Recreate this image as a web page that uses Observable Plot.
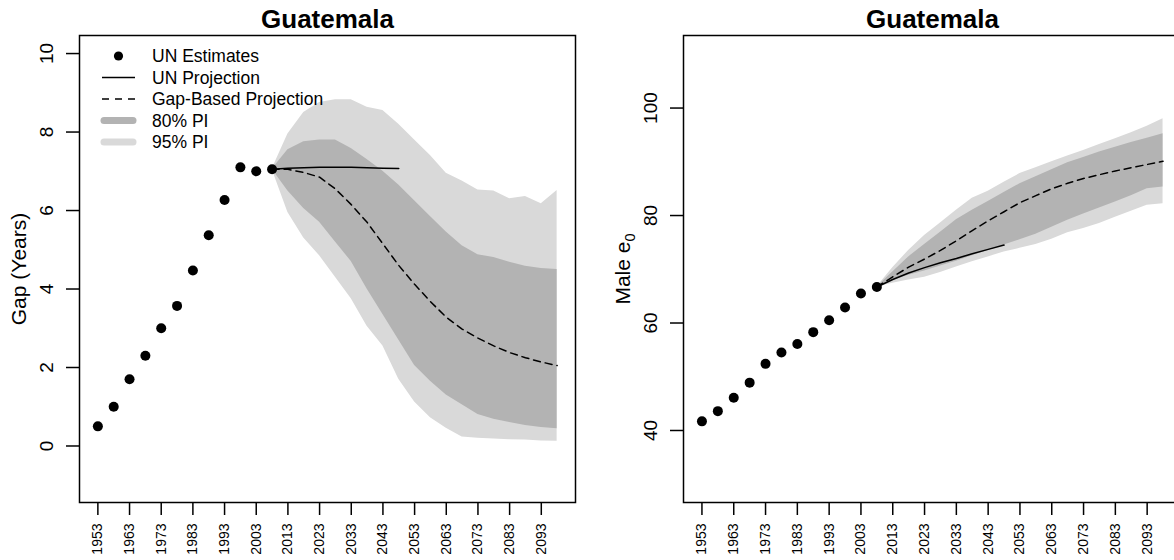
<!DOCTYPE html>
<html><head><meta charset="utf-8">
<script src="https://cdn.jsdelivr.net/npm/d3@7"></script>
<script src="https://cdn.jsdelivr.net/npm/@observablehq/plot@0.6"></script>
<style>
html,body{margin:0;padding:0;overflow:hidden;background:#fff;}
#wrap{position:relative;width:1174px;height:560px;overflow:hidden;}
#wrap svg{position:absolute;top:0;}
</style></head><body><div id="wrap"></div>
<script>
const FONT = '"Liberation Sans", Arial, Helvetica, sans-serif';
const title = "Guatemala";
const estYears = [1953,1958,1963,1968,1973,1978,1983,1988,1993,1998,2003,2008];
const projYears = [2008,2013,2018,2023,2028,2033,2038,2043,2048,2053,2058,2063,2068,2073,2078,2083,2088,2093,2098];
const unProjYears = [2008,2013,2018,2023,2028,2033,2038,2043,2048];
const xTicks = [1953,1963,1973,1983,1993,2003,2013,2023,2033,2043,2053,2063,2073,2083,2093];

// Left panel: gap
const gapTicks = [0,2,4,6,8,10];
const gapEst = [0.50,1.00,1.70,2.30,3.00,3.57,4.47,5.37,6.27,7.10,7.00,7.05];
const gapUNProj = [7.05,7.08,7.09,7.10,7.10,7.10,7.09,7.08,7.07];
const gapMedian = [7.05,7.05,6.97,6.85,6.55,6.15,5.70,5.15,4.60,4.12,3.68,3.28,2.98,2.75,2.55,2.38,2.25,2.14,2.05];
const gapLo80 = [7.05,6.50,6.05,5.70,5.20,4.70,4.00,3.35,2.70,2.05,1.65,1.30,1.05,0.80,0.68,0.60,0.52,0.47,0.44];
const gapHi80 = [7.05,7.55,7.75,7.80,7.80,7.58,7.30,7.00,6.65,6.25,5.85,5.45,5.10,4.87,4.80,4.68,4.58,4.52,4.50];
const gapLo95 = [7.05,5.95,5.30,4.85,4.30,3.75,3.05,2.55,1.70,1.12,0.72,0.45,0.23,0.20,0.18,0.16,0.15,0.13,0.12];
const gapHi95 = [7.05,7.95,8.50,8.75,8.82,8.82,8.63,8.55,8.20,7.80,7.40,6.95,6.75,6.52,6.50,6.30,6.36,6.17,6.51];

// Right panel: male e0
const e0Ticks = [40,60,80,100];
const e0Est = [41.7,43.6,46.1,48.9,52.4,54.5,56.1,58.3,60.5,62.9,65.5,66.7];
const e0UNProj = [66.7,68.1,69.3,70.3,71.2,72.0,72.9,73.7,74.5];
const e0Median = [66.7,68.6,70.4,71.9,73.5,75.3,77.2,79.0,80.7,82.4,83.7,85.0,86.0,86.9,87.6,88.3,88.9,89.5,90.1];
const e0Lo80 = [66.7,67.9,68.9,69.7,70.6,71.5,72.5,73.5,74.5,75.5,76.5,77.8,79.1,80.3,81.4,82.5,83.7,85.0,85.3];
const e0Hi80 = [66.7,69.5,72.3,74.6,76.9,79.2,81.0,82.6,84.3,85.9,87.2,88.5,89.8,90.8,91.8,92.7,93.6,94.4,95.2];
const e0Lo95 = [66.7,67.4,68.0,68.5,69.4,70.4,71.4,72.3,73.2,73.9,74.6,75.6,76.8,77.6,78.5,79.7,80.8,81.9,82.2];
const e0Hi95 = [66.7,70.3,73.5,76.3,78.6,81.0,83.2,84.5,86.2,87.8,88.9,90.0,91.1,92.1,93.2,94.3,95.4,96.6,98.0];

const legendItems = [
  {kind: "dot", label: "UN Estimates"},
  {kind: "solid", label: "UN Projection"},
  {kind: "dash", label: "Gap-Based Projection"},
  {kind: "band", color: "#b3b3b3", label: "80% PI"},
  {kind: "band", color: "#d9d9d9", label: "95% PI"}
];

function panel(o) {
  const est = estYears.map((year, i) => ({year, value: o.est[i]}));
  const un = unProjYears.map((year, i) => ({year, value: o.unProj[i]}));
  const proj = projYears.map((year, i) => ({year, med: o.median[i], lo80: o.lo80[i], hi80: o.hi80[i], lo95: o.lo95[i], hi95: o.hi95[i]}));
  return Plot.plot({
    width: 604, height: 560,
    marginLeft: 79, marginRight: o.marginRight, marginTop: 35, marginBottom: 58,
    style: {fontFamily: FONT, background: "transparent", overflow: "visible", color: "black"},
    x: {domain: [1947.2, 2103.8]},
    y: {domain: o.yDomain},
    marks: [
      Plot.areaY(proj, {x: "year", y1: "lo95", y2: "hi95", fill: "#d9d9d9"}),
      Plot.areaY(proj, {x: "year", y1: "lo80", y2: "hi80", fill: "#b3b3b3"}),
      Plot.lineY(un, {x: "year", y: "value", stroke: "black", strokeWidth: 1.5}),
      Plot.lineY(proj, {x: "year", y: "med", stroke: "black", strokeWidth: 1.5, strokeDasharray: "7,5"}),
      Plot.dot(est, {x: "year", y: "value", r: 5, fill: "black", stroke: "none"}),
      Plot.axisX(xTicks, {tickSize: 13, tickFormat: () => "", label: null, strokeWidth: 1.5}),
      Plot.axisY(o.yTicks, {tickSize: 13, tickFormat: () => "", label: null, strokeWidth: 1.5}),
      Plot.text(xTicks, {x: d => d, frameAnchor: "bottom", dy: 21, rotate: -90, textAnchor: "end", lineAnchor: "middle", fontSize: 14, text: d => String(d), fill: "black"}),
      Plot.text(o.yTicks, {y: d => d, frameAnchor: "left", dx: -33, rotate: -90, textAnchor: "middle", lineAnchor: "middle", fontSize: 19, text: d => String(d), fill: "black"}),
      Plot.text([o.ylabel], {frameAnchor: "left", dx: -60, rotate: -90, textAnchor: "middle", lineAnchor: "middle", fontSize: 21, text: d => d, fill: "black"}),
      Plot.text([title], {frameAnchor: "top", dy: -8, lineAnchor: "bottom", fontSize: 26, fontWeight: "bold", text: d => d, fill: "black"}),
      Plot.frame({stroke: "black", strokeWidth: 1.5})
    ]
  });
}

const wrap = document.getElementById("wrap");

const left = panel({est: gapEst, unProj: gapUNProj, median: gapMedian, lo80: gapLo80, hi80: gapHi80, lo95: gapLo95, hi95: gapHi95,
  yDomain: [-1.44, 10.46], yTicks: gapTicks, ylabel: "Gap (Years)", marginRight: 29});
left.style.left = "0px";
wrap.appendChild(left);

const right = panel({est: e0Est, unProj: e0UNProj, median: e0Median, lo80: e0Lo80, hi80: e0Hi80, lo95: e0Lo95, hi95: e0Hi95,
  yDomain: [26.6, 113.5], yTicks: e0Ticks, ylabel: "Male e0", marginRight: 27});
right.style.left = "604px";
wrap.appendChild(right);

// subscript in "Male e0"
d3.select(right).selectAll("text").filter(function() { return this.textContent === "Male e0"; }).each(function() {
  const t = d3.select(this);
  t.text(null);
  t.append("tspan").text("Male e");
  t.append("tspan").attr("dy", "0.3em").attr("font-size", "0.7em").text("0");
});

// legend (left panel)
const lg = d3.select(left).append("g").attr("font-family", FONT).attr("font-size", 17.5).attr("text-anchor", "start");
legendItems.forEach((it, i) => {
  const y = 56 + i * 21.5;
  if (it.kind === "dot") lg.append("circle").attr("cx", 118.5).attr("cy", y).attr("r", 4.6).attr("fill", "black");
  else if (it.kind === "solid") lg.append("line").attr("x1", 102).attr("x2", 135).attr("y1", y).attr("y2", y).attr("stroke", "black").attr("stroke-width", 1.5);
  else if (it.kind === "dash") lg.append("line").attr("x1", 102).attr("x2", 135).attr("y1", y).attr("y2", y).attr("stroke", "black").attr("stroke-width", 1.5).attr("stroke-dasharray", "7,6");
  else lg.append("line").attr("x1", 104).attr("x2", 133).attr("y1", y).attr("y2", y).attr("stroke", it.color).attr("stroke-width", 7).attr("stroke-linecap", "round");
  lg.append("text").attr("x", 152).attr("y", y).attr("dy", "0.35em").attr("text-anchor", "start").attr("fill", "black").text(it.label);
});
</script></body></html>
